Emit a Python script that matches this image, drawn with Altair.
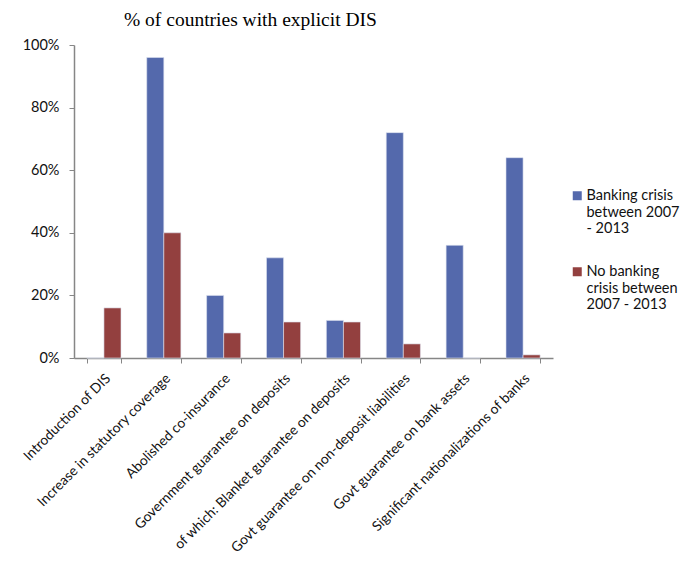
import altair as alt
import pandas as pd

categories = [
    "Introduction of DIS",
    "Increase in statutory coverage",
    "Abolished co-insurance",
    "Government guarantee on deposits",
    "of which: Blanket guarantee on deposits",
    "Govt guarantee on non-deposit liabilities",
    "Govt guarantee on bank assets",
    "Significant nationalizations of banks",
]
series = [
    "Banking crisis between 2007 - 2013",
    "No banking crisis between 2007 - 2013",
]
crisis = [0.0, 0.96, 0.20, 0.32, 0.12, 0.72, 0.36, 0.64]
no_crisis = [0.16, 0.40, 0.08, 0.115, 0.115, 0.045, 0.0, 0.01]
colors = ["#5469AC", "#93403F"]
y_ticks = [0, 0.2, 0.4, 0.6, 0.8, 1.0]

rows = []
for c, a, b in zip(categories, crisis, no_crisis):
    rows.append({"category": c, "series": series[0], "value": a})
    rows.append({"category": c, "series": series[1], "value": b})
df = pd.DataFrame(rows)

label_expr = (
    "datum.label == 'Banking crisis between 2007 - 2013' ? "
    "['Banking crisis', 'between 2007', '- 2013'] : "
    "['No banking', 'crisis between', '2007 - 2013']"
)

font = "Lato"

chart = (
    alt.Chart(df)
    .mark_bar(stroke="#dde3f0", strokeWidth=0.6)
    .encode(
        x=alt.X(
            "category:N",
            sort=categories,
            scale=alt.Scale(paddingInner=0.43, paddingOuter=0.215),
            axis=alt.Axis(
                title=None,
                labelAngle=-45,
                labelAlign="right",
                labelBaseline="middle",
                labelFontSize=13.8,
                labelFont=font,
                labelColor="#111111",
                labelPadding=13,
                labelOffset=4,
                labelLimit=0,
                tickBand="extent",
                tickSize=5,
                tickColor="#868686",
                domainColor="#868686",
                domainWidth=1.5,
            ),
        ),
        xOffset=alt.XOffset("series:N", sort=series, scale=alt.Scale(paddingInner=0, paddingOuter=0)),
        y=alt.Y(
            "value:Q",
            stack=None,
            scale=alt.Scale(domain=[0, 1]),
            axis=alt.Axis(
                title=None,
                values=y_ticks,
                format=".0%",
                grid=False,
                labelFontSize=14.5,
                labelFont=font,
                labelColor="#111111",
                labelPadding=10,
                tickSize=5,
                tickColor="#868686",
                domainColor="#868686",
                domainWidth=1.5,
            ),
        ),
        color=alt.Color(
            "series:N",
            sort=series,
            scale=alt.Scale(domain=series, range=colors),
            legend=alt.Legend(
                title=None,
                orient="none",
                legendX=496,
                legendY=148,
                labelExpr=label_expr,
                labelFontSize=14.5,
                labelFont=font,
                labelColor="#111111",
                labelBaseline="alphabetic",
                labelLimit=0,
                labelOffset=2,
                symbolType="M-1,-2H1V0H-1Z",
                symbolSize=81,
                symbolStrokeWidth=0,
                rowPadding=28,
            ),
        ),
    )
    .properties(
        width=479,
        height=313,
        padding={"left": 66, "top": 37, "right": 131, "bottom": 200},
        autosize=alt.AutoSizeParams(type="none"),
        title=alt.TitleParams(
            "% of countries with explicit DIS",
            font="Liberation Serif",
            fontSize=19.5,
            fontWeight="normal",
            color="#000000",
            anchor="start",
            frame="group",
            dx=50,
            offset=7,
        ),
    )
    .configure_view(stroke=None)
)

chart.save("out.html", embed_options={"renderer": "svg", "actions": False})
